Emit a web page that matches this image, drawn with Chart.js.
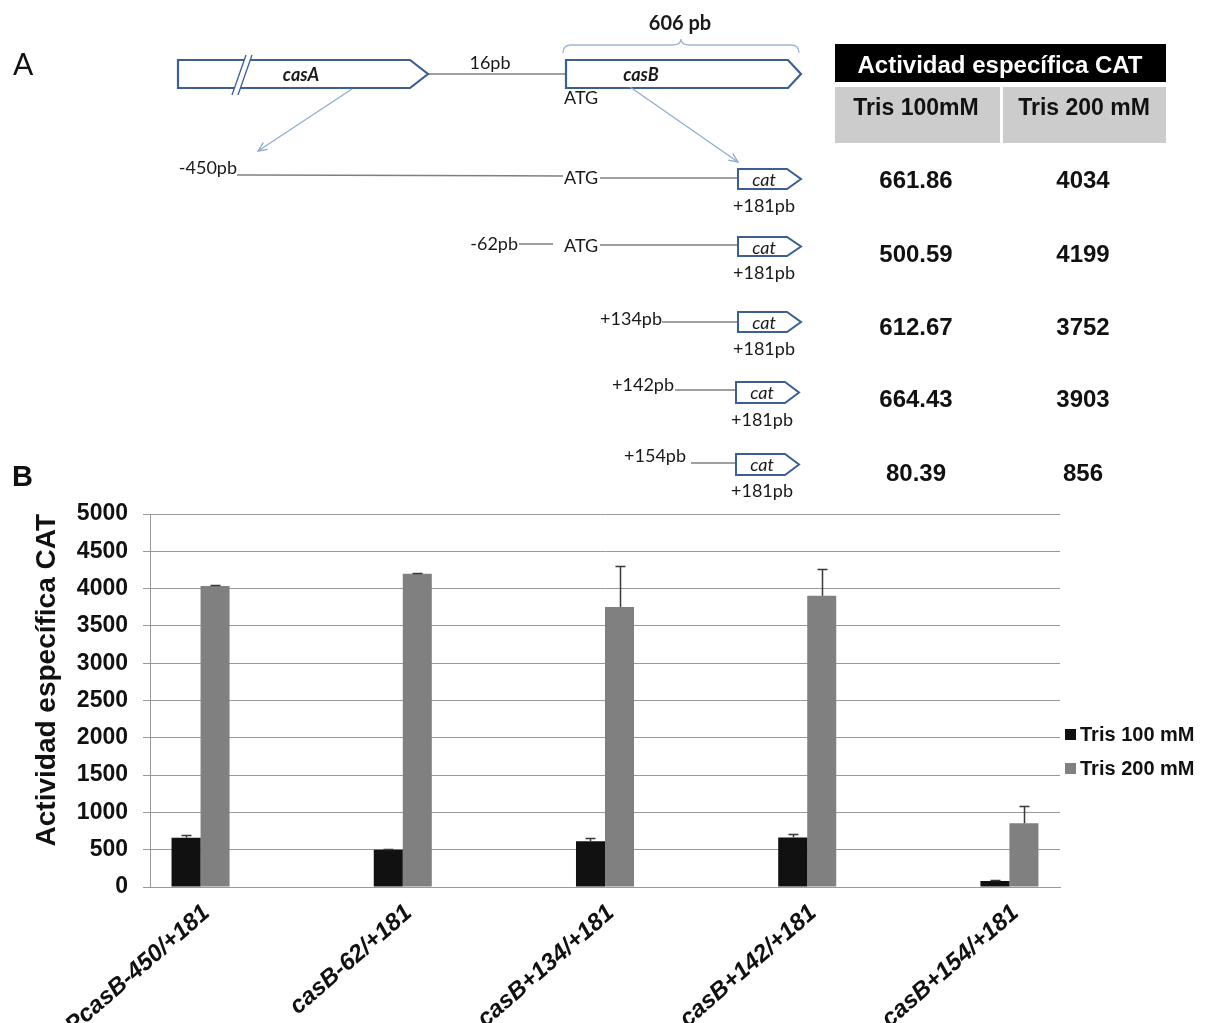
<!DOCTYPE html>
<html lang="es">
<head>
<meta charset="utf-8">
<title>Actividad específica CAT</title>
<script src="https://cdn.jsdelivr.net/npm/chart.js@4.4.1/dist/chart.umd.min.js"></script>
<style>
  html, body { margin: 0; padding: 0; background: #fff; }
  #page { position: relative; width: 1208px; height: 1023px; overflow: hidden; background: #fff; }
  #chart { position: absolute; left: 0; top: 0; }
  #overlay { position: absolute; left: 0; top: 0; pointer-events: none; }
</style>
</head>
<body>
<div id="page">
  <canvas id="chart" width="1208" height="1023"></canvas>
  <svg id="overlay" width="1208" height="1023" xmlns="http://www.w3.org/2000/svg">
    <defs>
      <marker id="ah" viewBox="0 0 12 12" refX="11" refY="6" markerWidth="12" markerHeight="12"
              orient="auto" markerUnits="userSpaceOnUse">
        <path d="M2,2 L11,6 L2,10" fill="none" stroke="#8fa9cf" stroke-width="1.3"/>
      </marker>
    </defs>

    <!-- panel labels -->
    <text x="13" y="75" font-family="Lato, 'Open Sans', sans-serif" font-size="30" fill="#111">A</text>
    <text x="12" y="486" font-family="'Liberation Sans', Arial, sans-serif" font-weight="bold" font-size="29" fill="#111">B</text>

    <!-- gene map: casA - casB -->
    <g font-family="Lato, 'Open Sans', sans-serif" font-size="18" fill="#1a1a1a">
      <text x="680" y="22" text-anchor="middle" dominant-baseline="central" font-weight="bold" font-size="20">606 pb</text>
      <path d="M563,53 Q563,45 571,45 L672,45 Q681,45 681,39 Q681,45 690,45 L791,45 Q799,45 799,53"
            fill="none" stroke="#9fb6d6" stroke-width="1.3"/>

      <line x1="428" y1="74" x2="566" y2="74" stroke="#7f7f7f" stroke-width="1.5"/>
      <text x="490" y="62" text-anchor="middle" dominant-baseline="central">16pb</text>

      <path d="M178,60 H410 L428,74 L410,88 H178 Z" fill="#fff" stroke="#3b5f91" stroke-width="2.2"/>
      <polygon points="246,55 252,55 238,95 232,95" fill="#fff"/>
      <line x1="246" y1="55" x2="232" y2="95" stroke="#3b5f91" stroke-width="1.3"/>
      <line x1="252" y1="55" x2="238" y2="95" stroke="#3b5f91" stroke-width="1.3"/>
      <text x="301" y="74" text-anchor="middle" dominant-baseline="central" font-weight="bold" font-style="italic">casA</text>

      <path d="M566,60 H788 L801,74 L788,88 H566 Z" fill="#fff" stroke="#3b5f91" stroke-width="2.2"/>
      <text x="641" y="74" text-anchor="middle" dominant-baseline="central" font-weight="bold" font-style="italic">casB</text>
      <text x="564" y="97" dominant-baseline="central">ATG</text>

      <line x1="352" y1="89" x2="258" y2="151" stroke="#8fa9cf" stroke-width="1.2" marker-end="url(#ah)"/>
      <line x1="630" y1="87" x2="738" y2="162" stroke="#8fa9cf" stroke-width="1.2" marker-end="url(#ah)"/>

      <!-- fusions to cat -->
      <text x="237" y="167" text-anchor="end" dominant-baseline="central">-450pb</text>
      <line x1="237" y1="175" x2="563" y2="176" stroke="#7f7f7f" stroke-width="1.5"/>
      <text x="564" y="177" dominant-baseline="central">ATG</text>
      <line x1="600" y1="178" x2="738" y2="178" stroke="#7f7f7f" stroke-width="1.5"/>
      <path d="M738,169 H787 L801,179 L787,189 H738 Z" fill="#fff" stroke="#3b5f91" stroke-width="2"/>
      <text x="764" y="179" text-anchor="middle" dominant-baseline="central" font-style="italic">cat</text>
      <text x="764" y="205" text-anchor="middle" dominant-baseline="central">+181pb</text>

      <text x="518" y="243" text-anchor="end" dominant-baseline="central">-62pb</text>
      <line x1="519" y1="244" x2="553" y2="244" stroke="#7f7f7f" stroke-width="1.5"/>
      <text x="564" y="245" dominant-baseline="central">ATG</text>
      <line x1="600" y1="245" x2="738" y2="245" stroke="#7f7f7f" stroke-width="1.5"/>
      <path d="M738,237 H787 L801,246.5 L787,256 H738 Z" fill="#fff" stroke="#3b5f91" stroke-width="2"/>
      <text x="764" y="247" text-anchor="middle" dominant-baseline="central" font-style="italic">cat</text>
      <text x="764" y="272" text-anchor="middle" dominant-baseline="central">+181pb</text>

      <text x="662" y="318" text-anchor="end" dominant-baseline="central">+134pb</text>
      <line x1="662" y1="322" x2="738" y2="322" stroke="#7f7f7f" stroke-width="1.5"/>
      <path d="M738,312 H787 L801,322 L787,332 H738 Z" fill="#fff" stroke="#3b5f91" stroke-width="2"/>
      <text x="764" y="322" text-anchor="middle" dominant-baseline="central" font-style="italic">cat</text>
      <text x="764" y="348" text-anchor="middle" dominant-baseline="central">+181pb</text>

      <text x="674" y="384" text-anchor="end" dominant-baseline="central">+142pb</text>
      <line x1="675" y1="390" x2="736" y2="390" stroke="#7f7f7f" stroke-width="1.5"/>
      <path d="M736,382 H785 L799,392.5 L785,403 H736 Z" fill="#fff" stroke="#3b5f91" stroke-width="2"/>
      <text x="762" y="392" text-anchor="middle" dominant-baseline="central" font-style="italic">cat</text>
      <text x="762" y="419" text-anchor="middle" dominant-baseline="central">+181pb</text>

      <text x="686" y="455" text-anchor="end" dominant-baseline="central">+154pb</text>
      <line x1="691" y1="463" x2="736" y2="463" stroke="#7f7f7f" stroke-width="1.5"/>
      <path d="M736,454 H785 L799,464.5 L785,475 H736 Z" fill="#fff" stroke="#3b5f91" stroke-width="2"/>
      <text x="762" y="464" text-anchor="middle" dominant-baseline="central" font-style="italic">cat</text>
      <text x="762" y="490" text-anchor="middle" dominant-baseline="central">+181pb</text>
    </g>

    <!-- activity table -->
    <g id="table" font-family="'Liberation Sans', Arial, sans-serif" font-weight="bold">
      <rect x="835" y="44" width="331" height="38" fill="#000"/>
      <rect x="835" y="87" width="165" height="56" fill="#cccccc"/>
      <rect x="1003" y="87" width="163" height="56" fill="#cccccc"/>
    </g>
    <g id="legend" font-family="'Liberation Sans', Arial, sans-serif" font-weight="bold" font-size="20"></g>
  </svg>
</div>

<script>
// Constructs (promoter fragments fused to cat) and measured CAT specific activity
const constructs = ['PcasB-450/+181', 'casB-62/+181', 'casB+134/+181', 'casB+142/+181', 'casB+154/+181'];
const seriesNames = ['Tris 100 mM', 'Tris 200 mM'];
const tableHeaders = ['Tris 100mM', 'Tris 200 mM'];
const tris100 = [661.86, 500.59, 612.67, 664.43, 80.39];
const tris200 = [4034, 4199, 3752, 3903, 856];
const err100 = [40, 10, 40, 50, 8];
const err200 = [20, 12, 550, 365, 230];
const yTicks = [0, 500, 1000, 1500, 2000, 2500, 3000, 3500, 4000, 4500, 5000];

const SERIES_COLORS = ['#111111', '#808080'];
const SVG_NS = 'http://www.w3.org/2000/svg';

function svgText(parent, str, x, y, attrs) {
  const t = document.createElementNS(SVG_NS, 'text');
  t.setAttribute('x', x);
  t.setAttribute('y', y);
  t.setAttribute('dominant-baseline', 'central');
  for (const k in (attrs || {})) t.setAttribute(k, attrs[k]);
  t.textContent = str;
  parent.appendChild(t);
  return t;
}

// table: header, column names and values
const table = document.getElementById('table');
svgText(table, 'Actividad específica CAT', 1000, 64, { 'text-anchor': 'middle', fill: '#fff', 'font-size': 24 });
const colX = [916, 1084];
tableHeaders.forEach((h, c) => svgText(table, h, colX[c], 107, { 'text-anchor': 'middle', fill: '#111', 'font-size': 23 }));
const rowY = [179, 253, 326, 398, 472];
tris100.forEach((v, i) => svgText(table, v.toFixed(2), colX[0], rowY[i], { 'text-anchor': 'middle', fill: '#111', 'font-size': 24 }));
tris200.forEach((v, i) => svgText(table, String(v), colX[1] - 1, rowY[i], { 'text-anchor': 'middle', fill: '#111', 'font-size': 24 }));

// legend
const legend = document.getElementById('legend');
seriesNames.forEach((name, i) => {
  const cy = 734 + i * 34;
  const r = document.createElementNS(SVG_NS, 'rect');
  r.setAttribute('x', 1065); r.setAttribute('y', cy - 5);
  r.setAttribute('width', 11); r.setAttribute('height', 11);
  r.setAttribute('fill', SERIES_COLORS[i]);
  legend.appendChild(r);
  svgText(legend, name, 1080, cy, { fill: '#111' });
});

// error bars drawn on top of each bar, from the bar value upward
const errorBars = {
  id: 'errorBars',
  afterDatasetsDraw(chart) {
    const { ctx, scales: { y } } = chart;
    const errs = [err100, err200];
    ctx.save();
    ctx.strokeStyle = '#3a3a3a';
    ctx.lineWidth = 1.5;
    chart.data.datasets.forEach((ds, di) => {
      const meta = chart.getDatasetMeta(di);
      meta.data.forEach((bar, i) => {
        const v = ds.data[i].y;
        const yTop = Math.round(y.getPixelForValue(v + errs[di][i])) + 0.5;
        const yBase = y.getPixelForValue(v);
        const x = Math.round(bar.x) + 0.5;
        ctx.beginPath();
        ctx.moveTo(x, yBase);
        ctx.lineTo(x, yTop);
        ctx.moveTo(x - 5, yTop);
        ctx.lineTo(x + 5, yTop);
        ctx.stroke();
      });
    });
    ctx.restore();
  }
};

Chart.defaults.font.family = "'Liberation Sans', Arial, sans-serif";
Chart.defaults.color = '#111';

new Chart(document.getElementById('chart'), {
  type: 'bar',
  data: {
    datasets: [
      { label: seriesNames[0], data: tris100.map((v, i) => ({ x: i, y: v })), backgroundColor: SERIES_COLORS[0] },
      { label: seriesNames[1], data: tris200.map((v, i) => ({ x: i, y: v })), backgroundColor: SERIES_COLORS[1] }
    ]
  },
  options: {
    responsive: false,
    animation: false,
    events: [],
    barPercentage: 1,
    categoryPercentage: 0.287,
    layout: { padding: { top: 514, right: 148, bottom: 0, left: 0 } },
    plugins: { legend: { display: false }, tooltip: { enabled: false } },
    scales: {
      x: {
        type: 'linear',
        offset: false,
        min: -0.25,
        max: constructs.length - 0.75,
        grid: { display: false, drawTicks: false, offset: false },
        border: { display: true, color: '#999999', width: 1 },
        afterBuildTicks: (scale) => { scale.ticks = constructs.map((_, i) => ({ value: i })); },
        afterFit: (scale) => { scale.height = 136; },
        ticks: {
          autoSkip: false,
          minRotation: 41,
          maxRotation: 41,
          labelOffset: 6,
          padding: 12,
          color: '#111',
          font: { size: 24, weight: 'bold', style: 'italic' },
          callback: (value) => constructs[value]
        }
      },
      y: {
        min: 0,
        max: 5000,
        afterBuildTicks: (scale) => { scale.ticks = yTicks.map(v => ({ value: v })); },
        afterFit: (scale) => { scale.width = 150; },
        grid: { color: '#999999', lineWidth: 1, drawTicks: true, tickLength: 7 },
        border: { display: true, color: '#999999', width: 1 },
        ticks: { padding: 15, color: '#111', font: { size: 23, weight: 'bold' }, callback: (value) => String(value) },
        title: {
          display: true,
          text: 'Actividad específica CAT',
          align: 'end',
          color: '#111',
          font: { size: 28, weight: 'bold' },
          padding: { top: 30, bottom: 0 }
        }
      }
    }
  },
  plugins: [errorBars]
});
</script>
</body>
</html>
